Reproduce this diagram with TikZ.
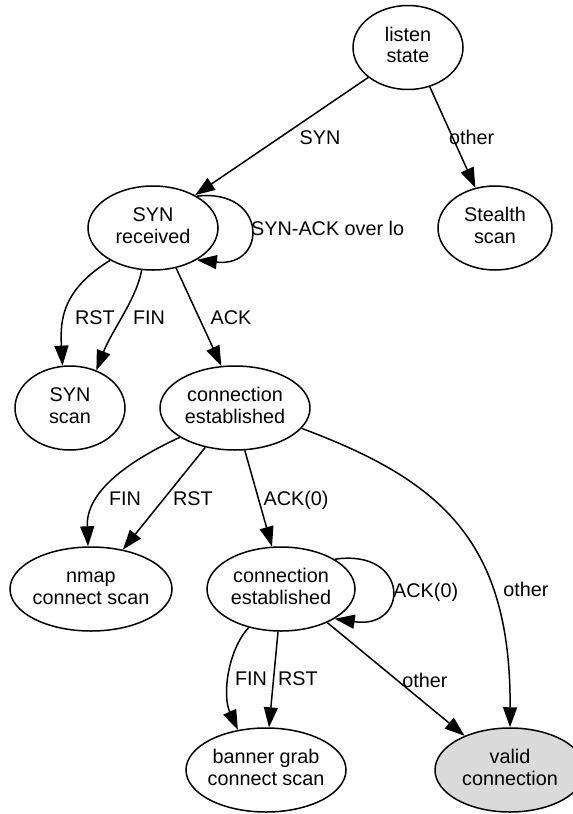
\documentclass[tikz,border=0pt]{standalone}
\usepackage{fontspec}
\setmainfont{Liberation Sans}
\usetikzlibrary{shapes.geometric,arrows.meta}
\definecolor{validgray}{RGB}{218,218,218}
\newcommand{\twoline}[2]{\makebox[0pt]{\begin{tabular}{@{}c@{}}#1\\#2\end{tabular}}}
\begin{document}
\begin{tikzpicture}[x=1pt,y=-1pt,
  state/.style={ellipse, draw, line width=1.5pt, inner sep=0pt, minimum height=84pt,
    font=\fontsize{19.8}{21.5}\selectfont},
  edge/.style={line width=1.5pt, -{Triangle[length=20pt,width=14pt]}},
  lbl/.style={inner sep=0pt, anchor=base, font=\fontsize{19.8}{21.5}\selectfont}]
\useasboundingbox (0,0) rectangle (573,814);
% nodes
\node[state, minimum width=110pt] (L)  at (408,47.5) {\twoline{listen}{state}};
\node[state, minimum width=130pt] (SR) at (153,228) {\twoline{SYN}{received}};
\node[state, minimum width=114pt] (ST) at (495,228) {\twoline{Stealth}{scan}};
\node[state, minimum width=110pt] (SS) at (70,408) {\twoline{SYN}{scan}};
\node[state, minimum width=150pt] (C1) at (235,408) {\twoline{connection}{established}};
\node[state, minimum width=162pt] (NM) at (91,589) {\twoline{nmap}{connect scan}};
\node[state, minimum width=148pt] (C2) at (281,589) {\twoline{connection}{established}};
\node[state, minimum width=160pt] (BG) at (266,770) {\twoline{banner grab}{connect scan}};
\node[state, minimum width=150pt, fill=validgray] (VC) at (510,770) {\twoline{valid}{connection}};
% edges
\draw[edge] (L.-143) -- (SR.38);
\node[lbl] (lSYN) at (320,144) {SYN};
\draw[edge] (L.-61.5) -- (ST.116.6);
\node[lbl, anchor=base west] (lOtherA) at (449,144) {other};
\draw[edge] (SR.36) .. controls (268,188) and (268,268) .. (SR.-36);
\node[lbl, anchor=base west] (lSynAck) at (251,235) {SYN-ACK over lo};
\draw[edge] (SR.-143) .. controls (62,290) and (60,320) .. (SS.100);
\draw[edge] (SR.-105) .. controls (136,300) and (112,330) .. (SS.55);
\draw[edge] (SR.-60) -- (C1.108);
\node[lbl] (lRSTa) at (95,324) {RST};
\node[lbl] (lFINa) at (149,324) {FIN};
\node[lbl] (lACK) at (231,324) {ACK};
\draw[edge] (C1.-152.6) .. controls (120,465) and (86,495) .. (NM.94);
\draw[edge] (C1.-127.3) -- (NM.51.5);
\draw[edge] (C1.-77) -- (C2.102);
\draw[edge] (C1.-17.4) .. controls (440,480) and (511,540) .. (VC.90);
\node[lbl] (lFINb) at (125,505) {FIN};
\node[lbl] (lRSTb) at (193,505) {RST};
\node[lbl] (lACKa) at (296,505) {ACK(0)};
\node[lbl] (lOtherB) at (526,596) {other};
\draw[edge] (C2.29) .. controls (410,548) and (410,630) .. (C2.-29.6);
\node[lbl, anchor=base west] (lACKb) at (393,597) {ACK(0)};
\draw[edge] (C2.-130) .. controls (228,650) and (222,695) .. (BG.125);
\draw[edge] (C2.-94) -- (BG.86);
\draw[edge] (C2.-36.5) -- (VC.143.3);
\node[lbl] (lFINc) at (251,685) {FIN};
\node[lbl] (lRSTc) at (298,685) {RST};
\node[lbl] (lOtherC) at (425,687) {other};
\end{tikzpicture}
\end{document}
